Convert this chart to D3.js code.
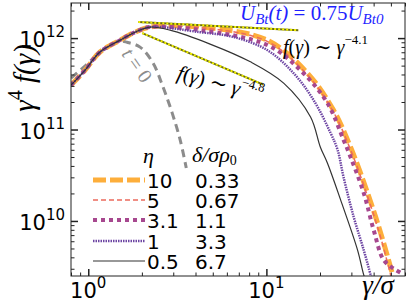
<!DOCTYPE html>
<html>
<head>
<meta charset="utf-8">
<script src="https://cdn.jsdelivr.net/npm/d3@7"></script>
<style>
  body { margin: 0; background: #fff; }
  svg { display: block; }
</style>
</head>
<body>
<div id="chart"></div>
<script>
// shared rising part (all runs coincide before the peak)
var gammaRise = [0.8, 0.96, 1.16, 1.51, 1.83, 2.22];
var fRise     = [3.06e11, 4.47e11, 7.0e11, 9.5e11, 1.16e12, 1.32e12];

// eta = 10
var gammaEta10 = [4.25, 10.1, 17.0, 23.8, 29.7, 37.0, 43.8, 51.2];
var fEta10     = [1.32e12, 9.5e11, 4.14e11, 1.63e11, 6.4e10, 2.02e10, 7.4e9, 2.57e9];
// eta = 5
var gammaEta5 = [4.25, 10.1, 17.0, 23.8, 29.7, 37.0, 43.8, 50.0];
var fEta5     = [1.30e12, 9.2e11, 3.95e11, 1.55e11, 6.0e10, 1.85e10, 6.6e9, 2.5e9];
// eta = 3.1
var gammaEta31 = [4.25, 10.1, 15.5, 22.0, 27.1, 28.6, 35.2, 40.0, 45.5, 52.0, 59.0];
var fEta31     = [1.22e12, 8.4e11, 4.47e11, 1.95e11, 7.7e10, 6.0e10, 2.02e10, 7.98e9, 3.75e9, 3.0e9, 2.6e9];
// eta = 1
var gammaEta1 = [4.25, 6.52, 10.1, 14.2, 18.4, 22.9, 25.1, 27.1, 30.9, 35.2, 38.5, 39.5];
var fEta1     = [1.16e12, 1.03e12, 7.4e11, 4.14e11, 2.1e11, 9.2e10, 6.0e10, 3.03e10, 1.11e10, 4.8e9, 2.57e9, 2.2e9];
// eta = 0.5
var gammaEta05 = [2.88, 4.83, 8.13, 12.5, 17.7, 20.1, 22.0, 26.1, 32.5, 35.2, 36.0];
var fEta05     = [1.22e12, 8.6e11, 5.5e11, 3.22e11, 1.37e11, 6.4e10, 4.3e10, 1.7e10, 4.8e9, 2.57e9, 2.3e9];
// t = 0
var gammaT0 = [0.8, 0.958, 1.164, 1.326, 1.507, 1.651, 1.954, 2.31, 2.63, 2.96, 3.28, 3.55];
var fT0     = [3.66e11, 4.94e11, 7.0e11, 8.4e11, 9.27e11, 9.0e11, 7.97e11, 5.33e11, 2.91e11, 1.51e11, 7.7e10, 3.79e10];

// power-law guides
var gammaFit41 = [1.91, 15.1];
var fFit41     = [1.50e12, 1.22e12];
var gammaFit48 = [2.01, 9.6];
var fFit48     = [1.135e12, 3.1e11];

var etaLabels   = ['10', '5', '3.1', '1', '0.5'];
var deltaLabels = ['0.33', '0.67', '1.1', '3.3', '6.7'];

var xMajor = [1, 10];
var xMinor = [0.8, 0.9, 2, 3, 4, 5, 6, 7, 8, 9, 20, 30, 40, 50, 60];
var yMajor = [1e10, 1e11, 1e12];
var yMinor = [3e9, 4e9, 5e9, 6e9, 7e9, 8e9, 9e9,
              2e10, 3e10, 4e10, 5e10, 6e10, 7e10, 8e10, 9e10,
              2e11, 3e11, 4e11, 5e11, 6e11, 7e11, 8e11, 9e11, 2e12];

(function() {

  var W = 407, H = 305;
  var pLeft = 71, pRight = 405, pTop = 3, pBottom = 276;

  var x = d3.scaleLog().domain([0.8, 60]).range([pLeft, pRight]);
  var y = d3.scaleLog().domain([2.5e9, 2.42e12]).range([pBottom, pTop]);

  var svg = d3.select('#chart').append('svg')
    .attr('width', W).attr('height', H);

  svg.append('clipPath').attr('id', 'clip')
    .append('rect').attr('x', pLeft).attr('y', pTop)
    .attr('width', pRight - pLeft).attr('height', pBottom - pTop);

  var line = d3.line()
    .x(function(d) { return x(d[0]); })
    .y(function(d) { return y(d[1]); })
    .curve(d3.curveCatmullRom.alpha(0.5));

  function pairs(gs, fs) {
    return gs.map(function(g, i) { return [g, fs[i]]; });
  }

  var series = [
    { g: gammaEta10, f: fEta10, color: '#fdae3b', width: 5, dash: '13,4' },
    { g: gammaEta5,  f: fEta5,  color: '#ec6a5c', width: 1.5, dash: '5,3' },
    { g: gammaEta31, f: fEta31, color: '#a7488f', width: 4, dash: '4,4' },
    { g: gammaEta1,  f: fEta1,  color: '#6d45a3', width: 2.5, dash: '1.5,1' },
    { g: gammaEta05, f: fEta05, color: '#333333', width: 1.2, dash: null }
  ];

  var plot = svg.append('g').attr('clip-path', 'url(#clip)');

  // t = 0 curve
  plot.append('path')
    .attr('d', line(pairs(gammaT0, fT0)))
    .attr('fill', 'none')
    .attr('stroke', '#8c8c8c')
    .attr('stroke-width', 3)
    .attr('stroke-dasharray', '8,5');

  series.forEach(function(s) {
    plot.append('path')
      .attr('d', line(pairs(gammaRise, fRise).concat(pairs(s.g, s.f))))
      .attr('fill', 'none')
      .attr('stroke', s.color)
      .attr('stroke-width', s.width)
      .attr('stroke-dasharray', s.dash);
  });

  // power-law guides: dark line with yellow dots
  var straight = d3.line()
    .x(function(d) { return x(d[0]); })
    .y(function(d) { return y(d[1]); });
  [[gammaFit41, fFit41], [gammaFit48, fFit48]].forEach(function(fit) {
    var d = straight(pairs(fit[0], fit[1]));
    plot.append('path').attr('d', d).attr('fill', 'none')
      .attr('stroke', '#6b6b10').attr('stroke-width', 2);
    plot.append('path').attr('d', d).attr('fill', 'none')
      .attr('stroke', '#f2f200').attr('stroke-width', 2)
      .attr('stroke-dasharray', '2,2');
  });

  // frame
  svg.append('rect')
    .attr('x', pLeft).attr('y', pTop)
    .attr('width', pRight - pLeft).attr('height', pBottom - pTop)
    .attr('fill', 'none').attr('stroke', '#222').attr('stroke-width', 1);

  // ticks (pointing inward, on all four sides)
  function ticks(axisFn, scale, vals, size, width, transform) {
    var g = svg.append('g').attr('transform', transform)
      .call(axisFn(scale).tickValues(vals).tickSize(size).tickFormat(''));
    g.select('.domain').remove();
    g.selectAll('line').attr('stroke', '#222').attr('stroke-width', width);
  }
  ticks(d3.axisBottom, x, xMajor, -7, 1.5, 'translate(0,' + pBottom + ')');
  ticks(d3.axisBottom, x, xMinor, -3.5, 1, 'translate(0,' + pBottom + ')');
  ticks(d3.axisTop, x, xMajor, -7, 1.5, 'translate(0,' + pTop + ')');
  ticks(d3.axisTop, x, xMinor, -3.5, 1, 'translate(0,' + pTop + ')');
  ticks(d3.axisLeft, y, yMajor, -7, 1.5, 'translate(' + pLeft + ',0)');
  ticks(d3.axisLeft, y, yMinor, -3.5, 1, 'translate(' + pLeft + ',0)');
  ticks(d3.axisRight, y, yMajor, -7, 1.5, 'translate(' + pRight + ',0)');
  ticks(d3.axisRight, y, yMinor, -3.5, 1, 'translate(' + pRight + ',0)');

  var sans = 'DejaVu Sans, sans-serif';
  var serif = 'Liberation Serif, DejaVu Serif, serif';

  // tick labels 10^k
  function powerLabel(px, py, exp, anchor) {
    var t = svg.append('text')
      .attr('x', px).attr('y', py)
      .attr('text-anchor', anchor)
      .attr('font-family', sans).attr('font-size', 21).attr('fill', '#000');
    t.append('tspan').text('10');
    t.append('tspan').attr('font-size', 15).attr('dy', -10).text(exp);
  }
  xMajor.forEach(function(v) {
    powerLabel(x(v), 298, String(Math.round(Math.log10(v))), 'middle');
  });
  yMajor.forEach(function(v) {
    powerLabel(65, y(v) + 9, String(Math.round(Math.log10(v))), 'end');
  });

  // axis titles
  var yt = svg.append('text')
    .attr('transform', 'translate(34,78) rotate(-90)')
    .attr('text-anchor', 'middle')
    .attr('font-family', serif).attr('font-style', 'italic')
    .attr('font-size', 29);
  yt.append('tspan').text('γ');
  yt.append('tspan').attr('font-style', 'normal').attr('font-size', 20).attr('dy', -12).text('4');
  yt.append('tspan').attr('dy', 12).text(' f(γ)');

  svg.append('text')
    .attr('x', 378).attr('y', 294)
    .attr('text-anchor', 'middle')
    .attr('font-family', serif).attr('font-style', 'italic')
    .attr('font-size', 27).text('γ/σ');

  // annotations
  var ub = svg.append('text')
    .attr('x', 240).attr('y', 20)
    .attr('font-family', serif).attr('font-style', 'italic')
    .attr('font-size', 21).attr('fill', '#1f1fff');
  ub.append('tspan').text('U');
  ub.append('tspan').attr('font-size', 15).attr('dy', 4).text('Bt');
  ub.append('tspan').attr('dy', -4).text('(t)');
  ub.append('tspan').attr('font-style', 'normal').text(' = 0.75');
  ub.append('tspan').text('U');
  ub.append('tspan').attr('font-size', 15).attr('dy', 4).text('Bt0');

  function powerLaw(el, exp) {
    el.append('tspan').text('f');
    el.append('tspan').attr('font-style', 'normal').text('(');
    el.append('tspan').text('γ');
    el.append('tspan').attr('font-style', 'normal').text(') ∼ ');
    el.append('tspan').text('γ');
    el.append('tspan').attr('font-style', 'normal').attr('font-size', 13).attr('dy', -10).text(exp);
  }
  powerLaw(svg.append('text')
    .attr('x', 283).attr('y', 54)
    .attr('font-family', serif).attr('font-style', 'italic')
    .attr('font-size', 20), '−4.1');
  powerLaw(svg.append('text')
    .attr('transform', 'translate(176,79) rotate(15)')
    .attr('font-family', serif).attr('font-style', 'italic')
    .attr('font-size', 21), '−4.8');

  var t0 = svg.append('text')
    .attr('transform', 'translate(121,54) rotate(55)')
    .attr('font-family', serif).attr('font-style', 'italic')
    .attr('font-size', 20).attr('fill', '#8c8c8c');
  t0.append('tspan').text('t');
  t0.append('tspan').attr('font-style', 'normal').text(' = 0');

  // legend
  var legend = svg.append('g');
  var rowY = [180, 200, 220, 241, 261];
  svg.append('text').attr('x', 143).attr('y', 163)
    .attr('font-family', serif).attr('font-style', 'italic')
    .attr('font-size', 22).text('η');
  var dh = svg.append('text').attr('x', 192).attr('y', 162)
    .attr('font-family', serif).attr('font-style', 'italic')
    .attr('font-size', 22);
  dh.append('tspan').text('δ/σρ');
  dh.append('tspan').attr('font-style', 'normal').attr('font-size', 14).attr('dy', 3).text('0');

  series.forEach(function(s, i) {
    legend.append('line')
      .attr('x1', 93).attr('x2', 145)
      .attr('y1', rowY[i]).attr('y2', rowY[i])
      .attr('stroke', s.color).attr('stroke-width', s.width)
      .attr('stroke-dasharray', s.dash);
    legend.append('text').attr('x', 147).attr('y', rowY[i] + 8)
      .attr('font-family', sans).attr('font-size', 20).text(etaLabels[i]);
    legend.append('text').attr('x', 195).attr('y', rowY[i] + 8)
      .attr('font-family', sans).attr('font-size', 20).text(deltaLabels[i]);
  });

})();
</script>
</body>
</html>
